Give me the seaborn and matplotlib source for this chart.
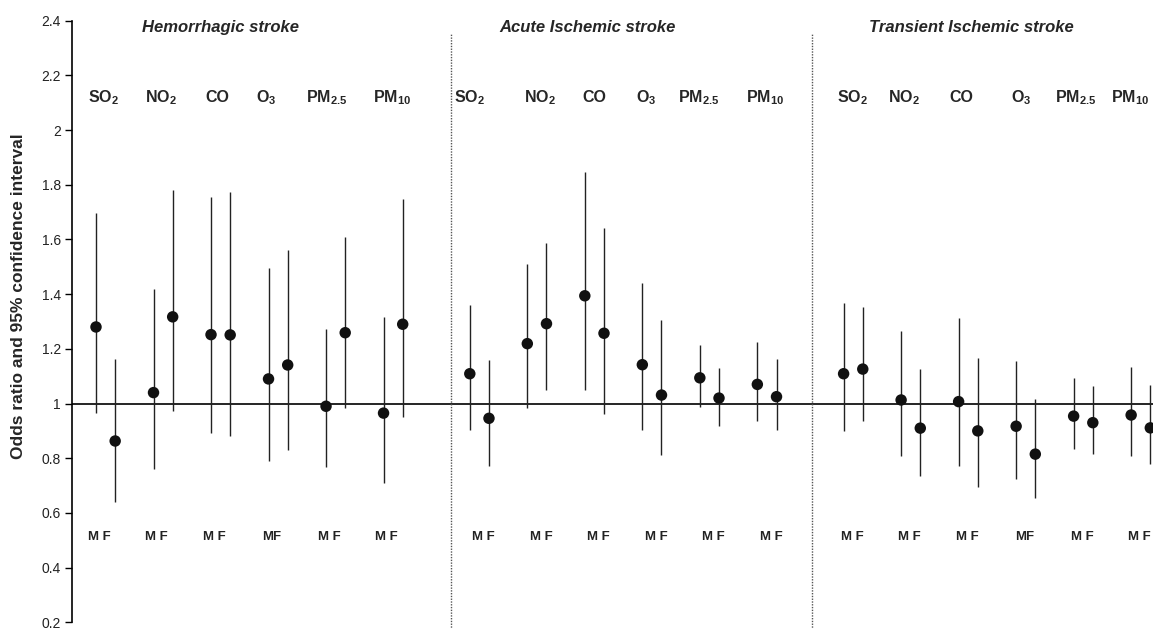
import seaborn as sns
import matplotlib.pyplot as plt
import pandas as pd

# Odds ratios (point) and 95% CI per stroke type, order: SO2 M/F, NO2 M/F, CO M/F, O3 M/F, PM2.5 M/F, PM10 M/F
panels = ["Hemorrhagic stroke", "Acute Ischemic stroke", "Transient Ischemic stroke"]
pollutants = ["SO$_2$", "NO$_2$", "CO", "O$_3$", "PM$_{2.5}$", "PM$_{10}$"]
sexes = ["M", "F"]

hem_or = [1.28, 0.863, 1.04, 1.317, 1.252, 1.251, 1.09, 1.141, 0.99, 1.259, 0.965, 1.29]
hem_lo = [0.964, 0.641, 0.76, 0.974, 0.893, 0.882, 0.791, 0.83, 0.769, 0.985, 0.708, 0.952]
hem_hi = [1.695, 1.162, 1.418, 1.781, 1.756, 1.772, 1.497, 1.561, 1.274, 1.608, 1.315, 1.747]

acute_or = [1.109, 0.946, 1.219, 1.292, 1.394, 1.257, 1.142, 1.031, 1.094, 1.02, 1.07, 1.025]
acute_lo = [0.903, 0.77, 0.982, 1.05, 1.05, 0.96, 0.903, 0.813, 0.987, 0.919, 0.936, 0.902]
acute_hi = [1.36, 1.159, 1.51, 1.588, 1.848, 1.643, 1.44, 1.304, 1.214, 1.129, 1.225, 1.163]

tia_or = [1.109, 1.126, 1.013, 0.91, 1.007, 0.9, 0.917, 0.815, 0.954, 0.93, 0.958, 0.911]
tia_lo = [0.9, 0.935, 0.809, 0.736, 0.77, 0.696, 0.724, 0.653, 0.833, 0.814, 0.808, 0.778]
tia_hi = [1.366, 1.354, 1.266, 1.125, 1.312, 1.165, 1.157, 1.016, 1.092, 1.063, 1.133, 1.069]

# sex labels under each pair (the O3 ones are squeezed in the original)
mf_labels = [["M F", "M F", "M F", "MF", "M F", "M F"],
             ["M F", "M F", "M F", "M F", "M F", "M F"],
             ["M F", "M F", "M F", "MF", "M F", "M F"]]

yticks = [0.2, 0.4, 0.6, 0.8, 1, 1.2, 1.4, 1.6, 1.8, 2, 2.2, 2.4]
ylabel = "Odds ratio and 95% confidence interval"

# layout (x units: one step = gap between M and F)
panel_step = 19.5
mf_offset = [0.15, 0.73, 0.45]
label_left = [[-0.42, 2.56, 5.72, 8.35, 10.95, 14.45],
              [18.69, 22.33, 25.39, 28.17, 30.38, 33.91],
              [38.64, 41.30, 44.51, 47.71, 50.03, 52.93]]
title_x = [6.51, 25.66, 45.68]
divider_x = [18.52, 37.37]

rows = []
for p, (ors, lo, hi) in enumerate([(hem_or, hem_lo, hem_hi),
                                   (acute_or, acute_lo, acute_hi),
                                   (tia_or, tia_lo, tia_hi)]):
    for j, pol in enumerate(pollutants):
        for s, sex in enumerate(sexes):
            k = j * 2 + s
            rows.append({"panel": panels[p], "pollutant": pol, "sex": sex,
                         "x": p * panel_step + j * 3 + s,
                         "or": ors[k], "lo": lo[k], "hi": hi[k]})
df = pd.DataFrame(rows)

sns.set_style("white")
plt.rcParams["font.family"] = ["Liberation Sans", "DejaVu Sans"]
plt.rcParams["mathtext.fontset"] = "custom"
plt.rcParams["mathtext.bf"] = "Liberation Sans:bold"
plt.rcParams["mathtext.rm"] = "Liberation Sans:bold"
plt.rcParams["mathtext.default"] = "bf"

fig = plt.figure(figsize=(11.53, 6.29), dpi=100)
ax = fig.add_axes([72 / 1153, 0, 1 - 72 / 1153, 1])

ax.axhline(1, color="black", lw=1.2, zorder=1)
ax.vlines(df["x"], df["lo"], df["hi"], color="#222222", lw=1.0, zorder=2)
sns.scatterplot(data=df, x="x", y="or", ax=ax, color="#111111", s=68,
                edgecolor="none", zorder=3, legend=False, clip_on=True)

for dx in divider_x:
    ax.plot([dx, dx], [0.17, 2.35], color="#555555", lw=1.0, ls=(0, (1, 1)), zorder=1)

for p in range(3):
    ax.text(title_x[p], 2.374, panels[p], ha="center", va="center",
            fontsize=12, fontweight="bold", fontstyle="italic")
    for j, pol in enumerate(pollutants):
        ax.text(label_left[p][j], 2.12, pol, ha="left", va="center",
                fontsize=11.5, fontweight="bold")
        ax.text(p * panel_step + j * 3 + mf_offset[p], 0.511, mf_labels[p][j],
                ha="center", va="center", fontsize=9.5, fontweight="bold", color="#222222")

ax.set_xlim(-1.252, 55.14)
ax.set_ylim(0.1755, 2.4757)
ax.set_yticks(yticks)
ax.set_yticklabels([f"{t:g}" for t in yticks], fontsize=10, color="#222222")
ax.tick_params(axis="y", direction="out", length=5, width=1, color="black", pad=3, left=True)
ax.set_xticks([])
ax.set_xlabel("")
ax.set_ylabel("")
for side in ["top", "right", "bottom"]:
    ax.spines[side].set_visible(False)
ax.spines["left"].set_bounds(0.2, 2.4)
ax.spines["left"].set_color("black")
ax.spines["left"].set_linewidth(1.2)

fig.text(19 / 1153, 1 - 296 / 629, ylabel, rotation=90, ha="center", va="center",
         fontsize=12.5, fontweight="bold")

fig.savefig("out.png", dpi=100)
